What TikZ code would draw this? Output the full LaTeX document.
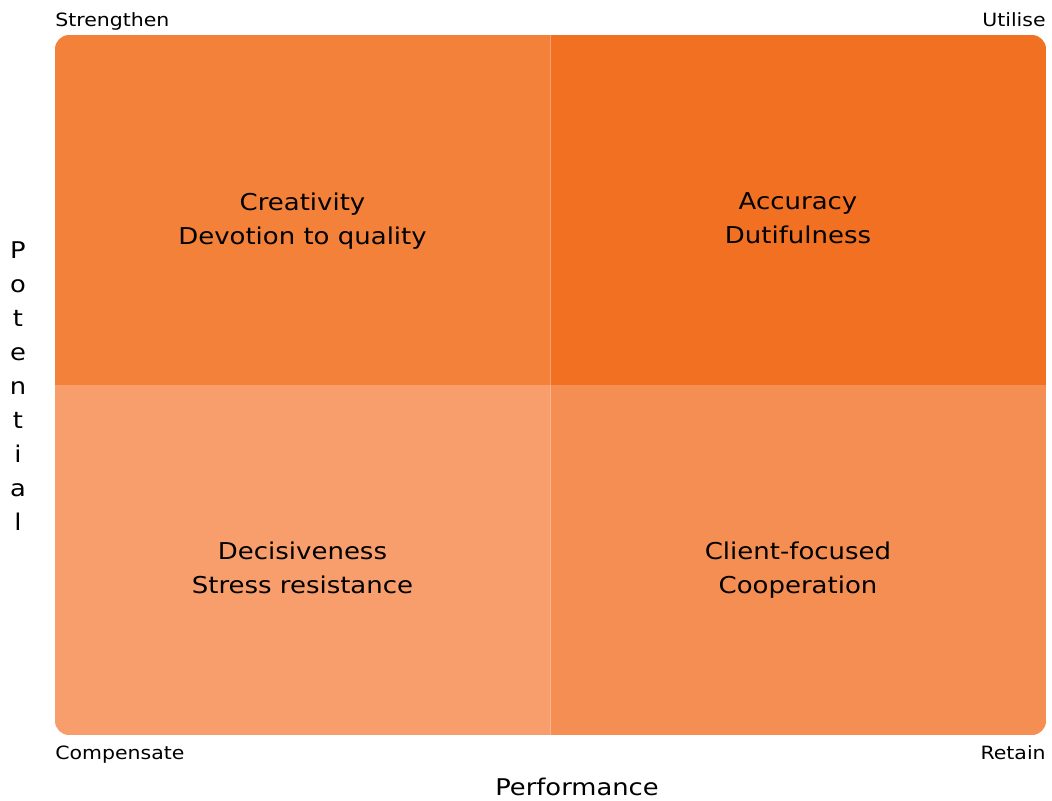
\documentclass[tikz,border=0pt]{standalone}
\usepackage{fontspec}
\setmainfont{DejaVu Sans}[FakeStretch=1.12]
\usetikzlibrary{positioning}
\definecolor{fg}{rgb}{0,0,0}
\definecolor{qtl}{RGB}{243,129,58}
\definecolor{qtr}{RGB}{242,112,34}
\definecolor{qbl}{RGB}{247,158,108}
\definecolor{qbr}{RGB}{245,142,82}
\tikzstyle{cell}=[align=center, text=fg, font=\fontsize{13.2}{19.3}\selectfont]
\tikzstyle{corner}=[text=fg, inner sep=0pt, anchor=base, font=\fontsize{10.4}{12}\selectfont]
\tikzstyle{axis}=[text=fg, font=\fontsize{13.1}{19.3}\selectfont]

\begin{document}
\begin{tikzpicture}[x=0.02cm, y=-0.02cm]
    \useasboundingbox (0, 0) rectangle (1052, 801) ;

    \begin{scope}
        \clip[rounded corners=8] (55, 35) rectangle (1046, 735) ;
        \fill[qtl] (55, 35) rectangle (550, 385) ;
        \fill[qtr] (550, 35) rectangle (1046, 385) ;
        \fill[qbl] (55, 385) rectangle (550, 735) ;
        \fill[qbr] (550, 385) rectangle (1046, 735) ;
        \draw[white, opacity=0.35, line width=0.6pt] (550.5, 35) -- (550.5, 735) ;
    \end{scope}

    \node[cell] (TL) at (302.5, 221) {Creativity\\Devotion to quality} ;
    \node[cell] (TR) at (798, 218) {Accuracy\\Dutifulness} ;
    \node[cell] (BL) at (302.5, 568) {Decisiveness\\Stress resistance} ;
    \node[cell] (BR) at (798, 570) {Client-focused\\Cooperation} ;

    \node[corner, anchor=base west] (Str) at (55, 26.5) {Strengthen} ;
    \node[corner, anchor=base east] (Uti) at (1046, 26.5) {Utilise} ;
    \node[corner, anchor=base west] (Com) at (55, 759.5) {Compensate} ;
    \node[corner, anchor=base east] (Ret) at (1046, 759.5) {Retain} ;

    \node[axis] (Perf) at (577, 787) {Performance} ;
    \node[axis, align=center] (Pot) at (18, 386)
        {P\\o\\t\\e\\n\\t\\i\\a\\l} ;
\end{tikzpicture}
\end{document}
